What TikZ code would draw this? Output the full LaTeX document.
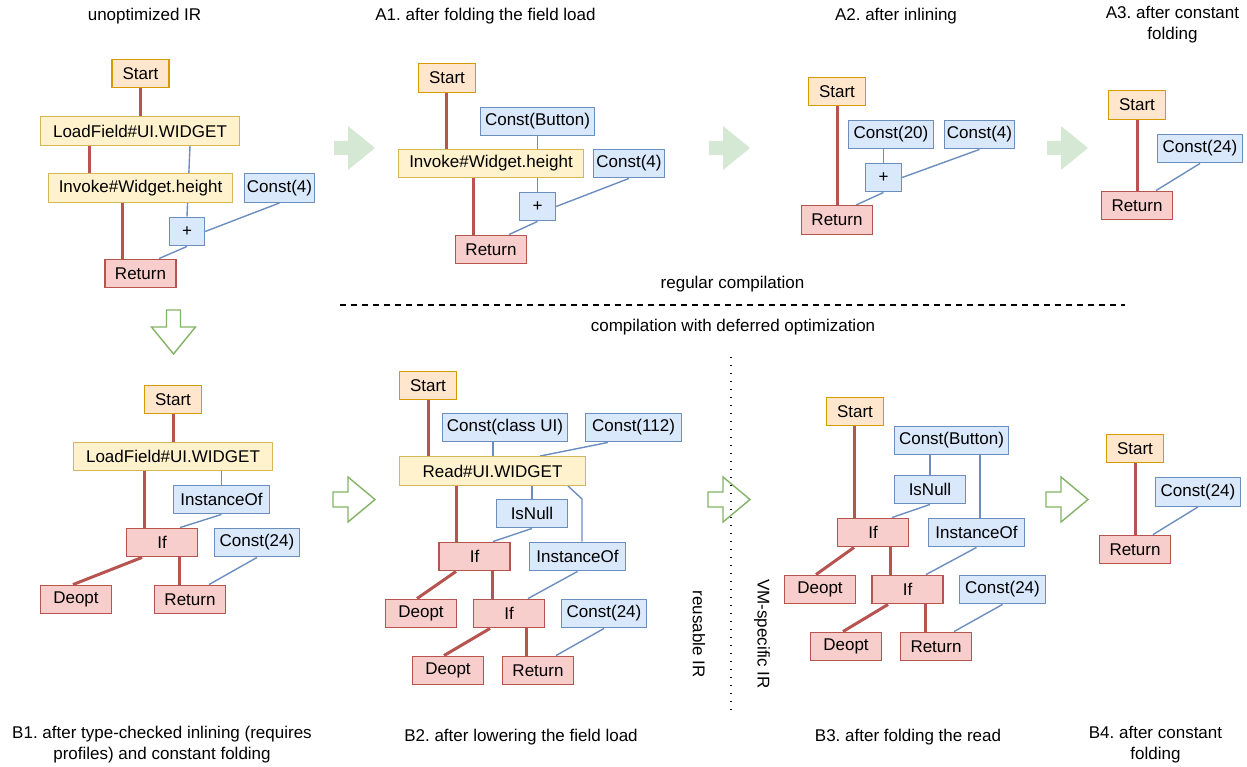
\documentclass[tikz,border=0pt]{standalone}
\usepackage{fontspec}
\setmainfont{Liberation Sans}
\frenchspacing
\pgfdeclarelayer{edges}
\pgfsetlayers{edges,main}

\definecolor{startfill}{HTML}{FFE6CC}
\definecolor{startline}{HTML}{D79B00}
\definecolor{opfill}{HTML}{FFF2CC}
\definecolor{opline}{HTML}{D6B656}
\definecolor{ctrlfill}{HTML}{F8CECC}
\definecolor{ctrlline}{HTML}{B85450}
\definecolor{valfill}{HTML}{DAE8FC}
\definecolor{valline}{HTML}{6C8EBF}
\definecolor{arrowfill}{HTML}{D5E8D4}
\definecolor{arrowline}{HTML}{82B366}

\begin{document}
\begin{tikzpicture}[x=1pt, y=-1pt,
    every node/.style = {font=\fontsize{17}{21}\selectfont, align=center},
    irbox/.style = {draw, line width=1.4pt, minimum height=28.5pt, inner sep=0pt},
    startbox/.style = {irbox, fill=startfill, draw=startline, minimum width=57pt},
    opbox/.style = {irbox, fill=opfill, draw=opline},
    ctrlbox/.style = {irbox, fill=ctrlfill, draw=ctrlline, minimum width=71pt},
    valbox/.style = {irbox, fill=valfill, draw=valline},
    ctrlflow/.style = {draw=ctrlline, line width=3pt},
    dataflow/.style = {draw=valline, line width=1.4pt},
    stagearrow/.style = {fill=arrowfill},
    deferarrow/.style = {draw=arrowline, line width=1.4pt, fill=white}]
  \useasboundingbox (0,0) rectangle (1247,767);

  % unoptimized IR
  \node (utitle) at (144.5,16) {unoptimized IR};
  \node[startbox] (ustart) at (140.5,73.5) {Start};
  \node[opbox, minimum width=199pt] (uload) at (140,131) {LoadField\#UI.WIDGET};
  \node[opbox, minimum width=184pt] (uinv) at (140.5,188) {Invoke\#Widget.height};
  \node[valbox, minimum width=70pt] (uc4) at (279.5,188) {Const(4)};
  \node[valbox, minimum width=35pt] (uadd) at (187,231.5) {+};
  \node[ctrlbox] (uret) at (140.5,273.5) {Return};

  % A1
  \node (a1title) at (485.5,16) {A1. after folding the field load};
  \node[startbox] (a1start) at (447,78) {Start};
  \node[valbox, minimum width=114pt] (a1btn) at (537.5,121.5) {Const(Button)};
  \node[opbox, minimum width=185pt] (a1inv) at (491,163.5) {Invoke\#Widget.height};
  \node[valbox, minimum width=71pt] (a1c4) at (629,163.5) {Const(4)};
  \node[valbox, minimum width=36pt] (a1add) at (537.5,206.5) {+};
  \node[ctrlbox] (a1ret) at (491,249.5) {Return};

  % A2
  \node (a2title) at (896,16) {A2. after inlining};
  \node[startbox] (a2start) at (837,91.5) {Start};
  \node[valbox, minimum width=85pt] (a2c20) at (891,134.5) {Const(20)};
  \node[valbox, minimum width=70pt] (a2c4) at (979.5,134.5) {Const(4)};
  \node[valbox, minimum width=36pt] (a2add) at (883.5,177.5) {+};
  \node[ctrlbox] (a2ret) at (837,220) {Return};

  % A3
  \node (a3title) at (1172.5,24.5) {A3. after constant\\folding};
  \node[startbox] (a3start) at (1137,105) {Start};
  \node[valbox, minimum width=85pt] (a3c24) at (1200,148.5) {Const(24)};
  \node[ctrlbox] (a3ret) at (1137,205.5) {Return};

  \node (regular) at (732.5,284) {regular compilation};
  \node (deferred) at (733,327) {compilation with deferred optimization};
  \draw[dash pattern=on 6pt off 5pt, line width=1.2pt] (340,305) -- (1125,305);

  % B1
  \node[startbox] (b1start) at (173,399.5) {Start};
  \node[opbox, minimum width=199pt] (b1load) at (173,456.5) {LoadField\#UI.WIDGET};
  \node[valbox, minimum width=96pt] (b1inst) at (221.5,499.5) {InstanceOf};
  \node[ctrlbox] (b1if) at (162,542.5) {If};
  \node[valbox, minimum width=85pt] (b1c24) at (257,542.5) {Const(24)};
  \node[ctrlbox] (b1deopt) at (76,599.5) {Deopt};
  \node[ctrlbox] (b1ret) at (190,599.5) {Return};
  \node (b1title) at (162,744.5) {B1. after type-checked inlining (requires\\profiles) and constant folding};

  % B2
  \node[startbox] (b2start) at (428,385.5) {Start};
  \node[valbox, minimum width=125pt] (b2cls) at (505,427.5) {Const(class UI)};
  \node[valbox, minimum width=96pt] (b2c112) at (633.5,427.5) {Const(112)};
  \node[opbox, minimum width=186pt] (b2read) at (492.5,471) {Read\#UI.WIDGET};
  \node[valbox, minimum width=71pt] (b2null) at (532,513.5) {IsNull};
  \node[ctrlbox] (b2if1) at (474.5,556.5) {If};
  \node[valbox, minimum width=96pt] (b2inst) at (577.5,556.5) {InstanceOf};
  \node[ctrlbox] (b2deopt1) at (421,613.5) {Deopt};
  \node[ctrlbox] (b2if2) at (509,613.5) {If};
  \node[valbox, minimum width=85pt] (b2c24) at (604,613.5) {Const(24)};
  \node[ctrlbox] (b2deopt2) at (448,670.5) {Deopt};
  \node[ctrlbox] (b2ret) at (538,670.5) {Return};
  \node (b2title) at (521,737) {B2. after lowering the field load};

  % B3
  \node[startbox] (b3start) at (855,411.5) {Start};
  \node[valbox, minimum width=114pt] (b3btn) at (951.5,440.5) {Const(Button)};
  \node[valbox, minimum width=71pt] (b3null) at (930,489.5) {IsNull};
  \node[ctrlbox] (b3if1) at (873,532.5) {If};
  \node[valbox, minimum width=96pt] (b3inst) at (976.5,532.5) {InstanceOf};
  \node[ctrlbox] (b3deopt1) at (820,589.5) {Deopt};
  \node[ctrlbox] (b3if2) at (907.5,589.5) {If};
  \node[valbox, minimum width=86pt] (b3c24) at (1002.5,589.5) {Const(24)};
  \node[ctrlbox] (b3deopt2) at (846,646.5) {Deopt};
  \node[ctrlbox] (b3ret) at (936,646.5) {Return};
  \node (b3title) at (908,737) {B3. after folding the read};

  % B4
  \node[startbox] (b4start) at (1135,448.5) {Start};
  \node[valbox, minimum width=85pt] (b4c24) at (1198,492) {Const(24)};
  \node[ctrlbox] (b4ret) at (1135,549.5) {Return};
  \node (b4title) at (1155.5,744.5) {B4. after constant\\folding};

  \node[rotate=-90] (reuse) at (699,634) {reusable IR};
  \node[rotate=-90] (vmspec) at (762,634) {VM-specific IR};

  % stage arrows
  \foreach \x in {334,709,1047}
    \fill[stagearrow] (\x,141) -- ++(14,0) -- ++(0,-15) -- ++(27,22) -- ++(-27,22) -- ++(0,-15) -- ++(-14,0) -- cycle;
  \foreach \x in {333,708,1046}
    \draw[deferarrow] (\x,492) -- ++(15,0) -- ++(0,-15) -- ++(27,22.5) -- ++(-27,22.5) -- ++(0,-15) -- ++(-15,0) -- cycle;
  \draw[deferarrow] (166.5,310) -- ++(0,17) -- ++(-15,0) -- ++(22,27) -- ++(22,-27) -- ++(-15,0) -- ++(0,-17) -- cycle;
  \draw[dash pattern=on 1.4pt off 6.6pt, line width=1.4pt] (731,357) -- (731,710);

  \begin{pgfonlayer}{edges}
    % unoptimized IR
    \draw[ctrlflow] (ustart.south) -- (ustart.south |- uload.north);
    \draw[ctrlflow] (89,0 |- uload.south) -- (89,0 |- uinv.north);
    \draw[ctrlflow] (122,0 |- uinv.south) -- (122,0 |- uret.north);
    \draw[dataflow] (190,0 |- uload.south) -- (uadd.north);
    \draw[dataflow] (uc4.south) -- (uadd.east);
    \draw[dataflow] (uadd.south) -- (159,0 |- uret.north);
    % A1
    \draw[ctrlflow] (446,0 |- a1start.south) -- (446,0 |- a1inv.north);
    \draw[ctrlflow] (473,0 |- a1inv.south) -- (473,0 |- a1ret.north);
    \draw[dataflow] (a1btn.south) -- (a1add.north);
    \draw[dataflow] (a1c4.south) -- (a1add.east);
    \draw[dataflow] (a1add.south) -- (509,0 |- a1ret.north);
    % A2
    \draw[ctrlflow] (a2start.south) -- (a2ret.north);
    \draw[dataflow] (a2add.north |- a2c20.south) -- (a2add.north);
    \draw[dataflow] (a2c4.south) -- (a2add.east);
    \draw[dataflow] (a2add.south) -- (856,0 |- a2ret.north);
    % A3
    \draw[ctrlflow] (a3start.south) -- (a3ret.north);
    \draw[dataflow] (a3c24.south) -- (1156,0 |- a3ret.north);
    % B1
    \draw[ctrlflow] (b1start.south) -- (b1load.north);
    \draw[ctrlflow] (144,0 |- b1load.south) -- (144,0 |- b1if.north);
    \draw[dataflow] (b1inst.north |- b1load.south) -- (b1inst.north);
    \draw[dataflow] (b1inst.south) -- (180,0 |- b1if.north);
    \draw[ctrlflow] (142,0 |- b1if.south) -- (73,0 |- b1deopt.north);
    \draw[ctrlflow] (179,0 |- b1if.south) -- (179,0 |- b1ret.north);
    \draw[dataflow] (b1c24.south) -- (209,0 |- b1ret.north);
    % B2
    \draw[ctrlflow] (b2start.south) -- (b2start.south |- b2read.north);
    \draw[dataflow] (493,0 |- b2cls.south) -- (493,0 |- b2read.north);
    \draw[dataflow] (608,0 |- b2c112.south) -- (540,0 |- b2read.north);
    \draw[ctrlflow] (456,0 |- b2read.south) -- (456,0 |- b2if1.north);
    \draw[dataflow] (b2null.north |- b2read.south) -- (b2null.north);
    \draw[dataflow] (568,0 |- b2read.south) -- (582,499) -- (582,0 |- b2inst.north);
    \draw[dataflow] (b2null.south) -- (493,0 |- b2if1.north);
    \draw[ctrlflow] (456,0 |- b2if1.south) -- (417,0 |- b2deopt1.north);
    \draw[ctrlflow] (492,0 |- b2if1.south) -- (492,0 |- b2if2.north);
    \draw[dataflow] (b2inst.south) -- (528,0 |- b2if2.north);
    \draw[ctrlflow] (490,0 |- b2if2.south) -- (444,0 |- b2deopt2.north);
    \draw[ctrlflow] (526,0 |- b2if2.south) -- (526,0 |- b2ret.north);
    \draw[dataflow] (b2c24.south) -- (556,0 |- b2ret.north);
    % B3
    \draw[ctrlflow] (854,0 |- b3start.south) -- (854,0 |- b3if1.north);
    \draw[dataflow] (930,0 |- b3btn.south) -- (b3null.north);
    \draw[dataflow] (980,0 |- b3btn.south) -- (980,0 |- b3inst.north);
    \draw[dataflow] (b3null.south) -- (892,0 |- b3if1.north);
    \draw[ctrlflow] (854,0 |- b3if1.south) -- (816,0 |- b3deopt1.north);
    \draw[ctrlflow] (890,0 |- b3if1.south) -- (890,0 |- b3if2.north);
    \draw[dataflow] (b3inst.south) -- (926,0 |- b3if2.north);
    \draw[ctrlflow] (888,0 |- b3if2.south) -- (843,0 |- b3deopt2.north);
    \draw[ctrlflow] (925,0 |- b3if2.south) -- (925,0 |- b3ret.north);
    \draw[dataflow] (b3c24.south) -- (954,0 |- b3ret.north);
    % B4
    \draw[ctrlflow] (b4start.south) -- (b4ret.north);
    \draw[dataflow] (b4c24.south) -- (1153,0 |- b4ret.north);
  \end{pgfonlayer}
\end{tikzpicture}
\end{document}
